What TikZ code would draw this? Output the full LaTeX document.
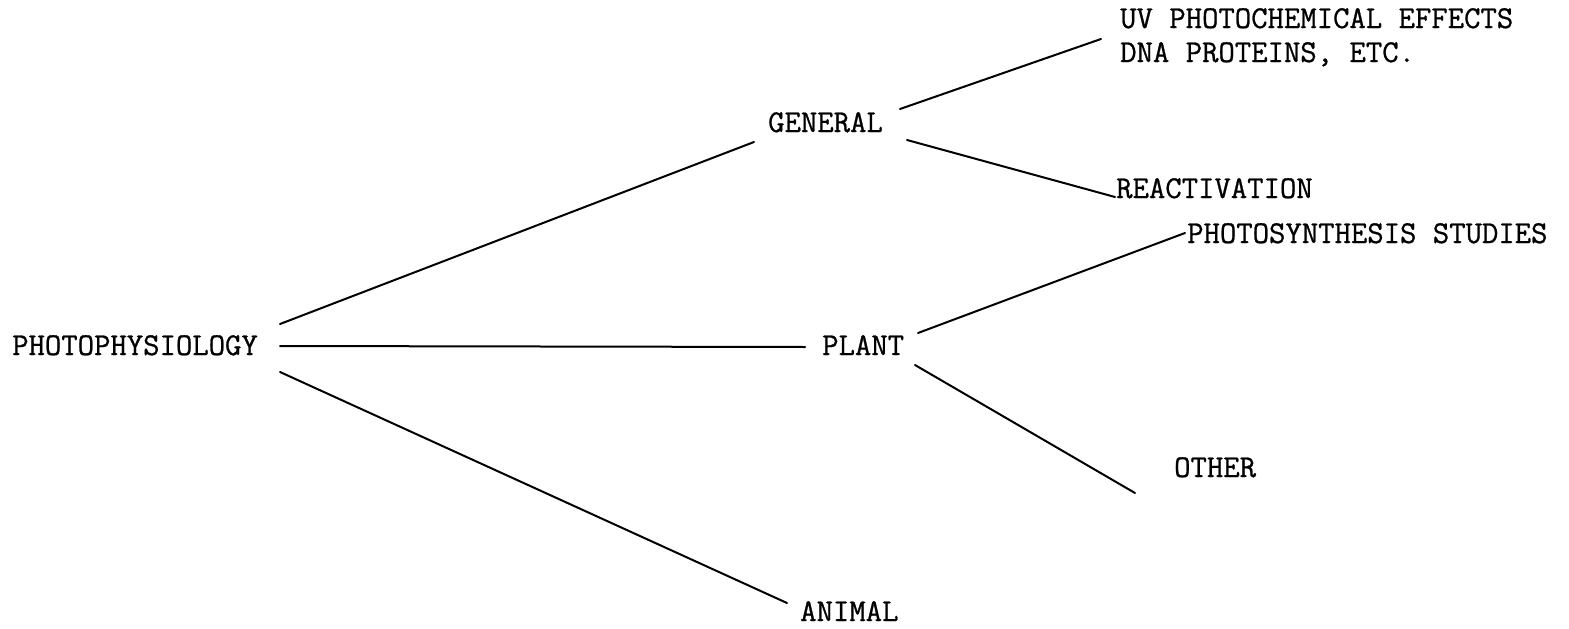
\documentclass[tikz,border=0pt]{standalone}
\usepackage{fontspec}
\newfontfamily\twfont{Latin Modern Mono}[FakeBold=0.8]
\begin{document}
\begin{tikzpicture}[x=1pt,y=-1pt,
  lbl/.style={anchor=base west,inner sep=0pt,font=\twfont\fontsize{31.8}{38}\selectfont},
  conn/.style={line width=2pt,black,line cap=round}]
\useasboundingbox (0,0) rectangle (1569,629);
\node[lbl] (photo) at (12,355) {PHOTOPHYSIOLOGY};
\node[lbl] (general) at (768,132) {GENERAL};
\node[lbl] (plant) at (822,355) {PLANT};
\node[lbl] (animal) at (800,621) {ANIMAL};
\node[lbl] (uv) at (1120,28) {UV PHOTOCHEMICAL EFFECTS};
\node[lbl] (dna) at (1120,62) {DNA PROTEINS, ETC.};
\node[lbl] (react) at (1116,198) {REACTIVATION};
\node[lbl] (photosyn) at (1187,243) {PHOTOSYNTHESIS STUDIES};
\node[lbl] (other) at (1174,477) {OTHER};
% connectors
\draw[conn] ([shift={(268,-31)}]photo.base west) -- ([shift={(-14,10)}]general.base west);
\draw[conn] ([shift={(268,-9)}]photo.base west) -- ([shift={(-17,-8)}]plant.base west);
\draw[conn] ([shift={(268,17)}]photo.base west) -- ([shift={(-13,-18)}]animal.base west);
\draw[conn] ([shift={(132,-23)}]general.base west) -- ([shift={(-19,11)}]uv.base west);
\draw[conn] ([shift={(139,8)}]general.base west) -- ([shift={(-1,-1)}]react.base west);
\draw[conn] ([shift={(96,-22)}]plant.base west) -- ([shift={(-2,-10)}]photosyn.base west);
\draw[conn] ([shift={(93,10)}]plant.base west) -- ([shift={(-39,16)}]other.base west);
\end{tikzpicture}
\end{document}
